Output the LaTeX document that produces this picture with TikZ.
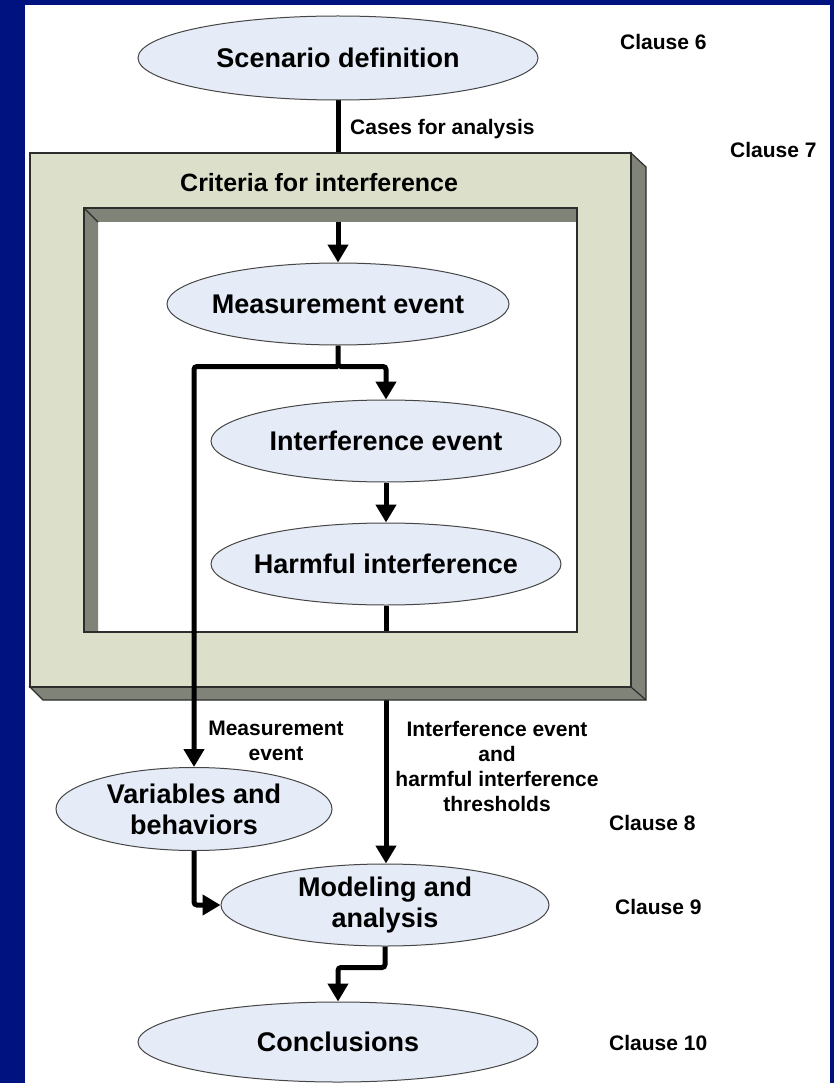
\documentclass[tikz,border=0pt]{standalone}
\usepackage{fontspec}
\setmainfont{Liberation Sans}
\usetikzlibrary{shapes.geometric,arrows.meta}
\definecolor{navy}{RGB}{0,17,128}
\definecolor{bubblefill}{RGB}{229,235,247}
\definecolor{bubbleline}{RGB}{70,70,70}
\definecolor{framefill}{RGB}{220,224,202}
\definecolor{framegray}{RGB}{128,131,120}
\definecolor{edge}{RGB}{45,45,45}
\pgfdeclarelayer{behind}
\pgfdeclarelayer{frame}
\pgfsetlayers{behind,frame,main}
\tikzset{
  bubble/.style={ellipse, draw=bubbleline, line width=1pt, fill=bubblefill, inner sep=0pt},
  etext/.style={font=\bfseries\fontsize{27}{31}\selectfont, align=center, inner sep=0pt},
  small/.style={font=\bfseries\fontsize{21}{25}\selectfont, align=center, inner sep=0pt},
  flow/.style={line width=5pt, rounded corners=3pt, -{Triangle[width=20pt,length=18pt]}},
  framepart/.style={draw=edge, line width=1.2pt, line join=miter},
}
\begin{document}
\begin{tikzpicture}[x=1pt,y=-1pt]
\useasboundingbox (0,0) rectangle (834,1083);
\begin{pgfonlayer}{behind}
  \fill[navy] (0,0) rectangle (834,1083);
  \fill[white] (25,5) rectangle (830,1083);
\end{pgfonlayer}

% process bubbles
\node[bubble, minimum width=400pt, minimum height=84pt, label={[etext]center:Scenario definition}] (scen) at (338,58) {};
\node[bubble, minimum width=342pt, minimum height=82pt, label={[etext]center:Measurement event}] (meas) at (338,304) {};
\node[bubble, minimum width=350pt, minimum height=82pt, label={[etext]center:Interference event}] (inter) at (386,441) {};
\node[bubble, minimum width=350pt, minimum height=82pt, label={[etext]center:Harmful interference}] (harm) at (386,564) {};
\node[bubble, minimum width=276pt, minimum height=83pt, label={[etext]center:Variables and\\behaviors}] (var) at (194,809) {};
\node[bubble, minimum width=328pt, minimum height=82pt, label={[etext]center:Modeling and\\analysis}] (model) at (385,905) {};
\node[bubble, minimum width=400pt, minimum height=80pt, label={[etext]center:Conclusions}] (concl) at (338,1042) {};

% bevelled frame around the interference criteria
\begin{pgfonlayer}{frame}
  \filldraw[framepart, fill=framegray] (631,153) -- (646,167) -- (646,700) -- (43,700) -- (30,687) -- (631,687) -- cycle;
  \filldraw[framepart, fill=framefill, even odd rule] (30,153) rectangle (631,687) (84,208) rectangle (577,632);
  \fill[framegray] (84,208) -- (577,208) -- (577,222) -- (98,222) -- (98,632) -- (84,632) -- cycle;
  \draw[framepart] (84,208) rectangle (577,632);
  \draw[framepart] (84,208) -- (98,222);
  \draw[framepart] (631,687) -- (646,700);
\end{pgfonlayer}
\node[font=\bfseries\fontsize{25}{30}\selectfont, anchor=base west, inner sep=0pt] (crit) at (180,192) {Criteria for interference};

% connectors passing behind the frame
\begin{pgfonlayer}{behind}
  \draw[flow] (scen.south) -- (meas.north);
  \draw[flow] (harm.south) -- (harm.south |- model.north);
\end{pgfonlayer}

% connectors in front
\path (meas.south) ++(0,21) coordinate (fork);
\draw[flow] (meas.south) -- (fork) -| (inter.north);
\draw[flow] (fork) -| (var.north);
\draw[flow] (inter.south) -- (harm.north);
\draw[flow] (var.south) |- (model.west);
\draw[flow] (model.south) -- ++(0,21) coordinate (bend) -| (concl.north);

% connector labels
\node[small, anchor=base west] (cases) at (350,135) {Cases for analysis};
\node[small] (mlab) at (276,741) {Measurement\\event};
\node[small] (ilab) at (497,766) {Interference event\\and\\harmful interference\\thresholds};

% clause references
\node[small, anchor=base west] (c6) at (620,50) {Clause 6};
\node[small, anchor=base west] (c7) at (730,158) {Clause 7};
\node[small, anchor=base west] (c8) at (609,830) {Clause 8};
\node[small, anchor=base west] (c9) at (615,914) {Clause 9};
\node[small, anchor=base west] (c10) at (609,1050) {Clause 10};
\end{tikzpicture}
\end{document}
